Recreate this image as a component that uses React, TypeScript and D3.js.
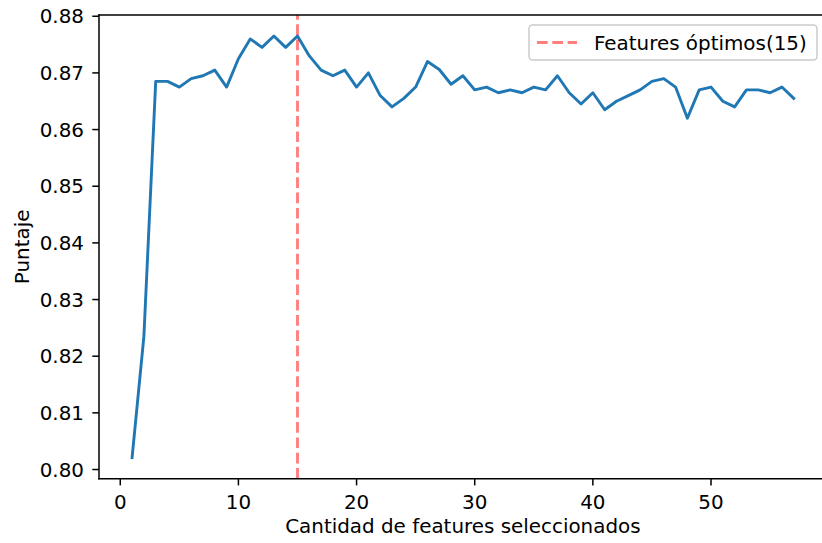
import React from "react";
import * as d3 from "d3";

const features: number[] = [
  1, 2, 3, 4, 5, 6, 7, 8, 9, 10, 11, 12, 13, 14, 15, 16, 17, 18, 19, 20,
  21, 22, 23, 24, 25, 26, 27, 28, 29, 30, 31, 32, 33, 34, 35, 36, 37, 38, 39, 40,
  41, 42, 43, 44, 45, 46, 47, 48, 49, 50, 51, 52, 53, 54, 55, 56, 57,
];
const scores: number[] = [
  0.8021, 0.8235, 0.8685, 0.8685, 0.8675, 0.869, 0.8695, 0.8705, 0.8675, 0.8725,
  0.876, 0.8745, 0.8765, 0.8745, 0.8765, 0.873, 0.8705, 0.8695, 0.8705, 0.8675,
  0.87, 0.866, 0.864, 0.8655, 0.8675, 0.872, 0.8706, 0.868, 0.8695, 0.867,
  0.8675, 0.8665, 0.867, 0.8665, 0.8675, 0.867, 0.8695, 0.8665, 0.8645, 0.8665,
  0.8635, 0.865, 0.866, 0.867, 0.8685, 0.869, 0.8675, 0.862, 0.867, 0.8675,
  0.865, 0.864, 0.867, 0.867, 0.8665, 0.8675, 0.8655,
];
const optimal = 15;
const xTicks: number[] = [0, 10, 20, 30, 40, 50];
const yTicks: number[] = [0.8, 0.81, 0.82, 0.83, 0.84, 0.85, 0.86, 0.87, 0.88];
const legendLabel = "Features óptimos(15)";
const xLabel = "Cantidad de features seleccionados";
const yLabel = "Puntaje";

const W = 822;
const H = 543;
const L = 99;
const R = 826.8;
const T = 15;
const B = 478.7;
const FONT = "DejaVu Sans";
const FS = 19.9;

export default function App() {
  const xMin = d3.min(features)!;
  const xMax = d3.max(features)!;
  const xPad = (xMax - xMin) * 0.05;
  const [yMinV, yMaxV] = d3.extent(scores) as [number, number];
  const yPad = (yMaxV - yMinV) * 0.05;
  const x = d3.scaleLinear().domain([xMin - xPad, xMax + xPad]).range([L, R]);
  const y = d3.scaleLinear().domain([yMinV - yPad, yMaxV + yPad]).range([B, T]);
  const line = d3
    .line<number>()
    .x((_, i) => x(features[i]))
    .y((d) => y(d));

  const tickLen = 6.7;
  const sw = 1.5;
  return (
    <svg
      width={W}
      height={H}
      style={{ position: "absolute", left: 0, top: 0, background: "#fff" }}
      fontFamily={FONT}
    >
      <rect x={0} y={0} width={W} height={H} fill="#fff" />
      <path d={line(scores) || ""} fill="none" stroke="#1f77b4" strokeWidth={2.9} strokeLinejoin="round" strokeLinecap="square" />
      <line
        x1={x(optimal)}
        x2={x(optimal)}
        y1={B}
        y2={T}
        stroke="rgb(255,0,0)"
        strokeOpacity={0.5}
        strokeWidth={2.9}
        strokeDasharray="10.7,4.6"
      />
      <line x1={L} x2={L} y1={T} y2={B} stroke="#000" strokeWidth={sw} strokeLinecap="square" />
      <line x1={L} x2={R} y1={B} y2={B} stroke="#000" strokeWidth={sw} strokeLinecap="square" />
      <line x1={L} x2={R} y1={T} y2={T} stroke="#000" strokeWidth={sw} strokeLinecap="square" />
      <line x1={R} x2={R} y1={T} y2={B} stroke="#000" strokeWidth={sw} strokeLinecap="square" />
      {xTicks.map((t) => (
        <g key={"x" + t}>
          <line x1={x(t)} x2={x(t)} y1={B} y2={B + tickLen} stroke="#000" strokeWidth={sw} />
          <text x={x(t)} y={509} textAnchor="middle" fontSize={FS} fill="#000">
            {t}
          </text>
        </g>
      ))}
      {yTicks.map((t) => (
        <g key={"y" + t}>
          <line x1={L - tickLen} x2={L} y1={y(t)} y2={y(t)} stroke="#000" strokeWidth={sw} />
          <text x={84} y={y(t) + 7.2} textAnchor="end" fontSize={FS} fill="#000">
            {t.toFixed(2)}
          </text>
        </g>
      ))}
      <text x={(L + R) / 2} y={533.3} textAnchor="middle" fontSize={FS} fill="#000">
        {xLabel}
      </text>
      <text
        transform={`translate(28.5,${(T + B) / 2}) rotate(-90)`}
        textAnchor="middle"
        fontSize={FS}
        fill="#000"
      >
        {yLabel}
      </text>
      <rect x={529} y={25} width={288} height={35} rx={3.5} fill="#fff" fillOpacity={0.8} stroke="#ccc" strokeWidth={1.5} />
      <line x1={537} x2={577} y1={42.5} y2={42.5} stroke="rgb(255,0,0)" strokeOpacity={0.5} strokeWidth={2.9} strokeDasharray="10.7,4.6" />
      <text x={594} y={49.8} fontSize={FS} fill="#000">
        {legendLabel}
      </text>
    </svg>
  );
}
